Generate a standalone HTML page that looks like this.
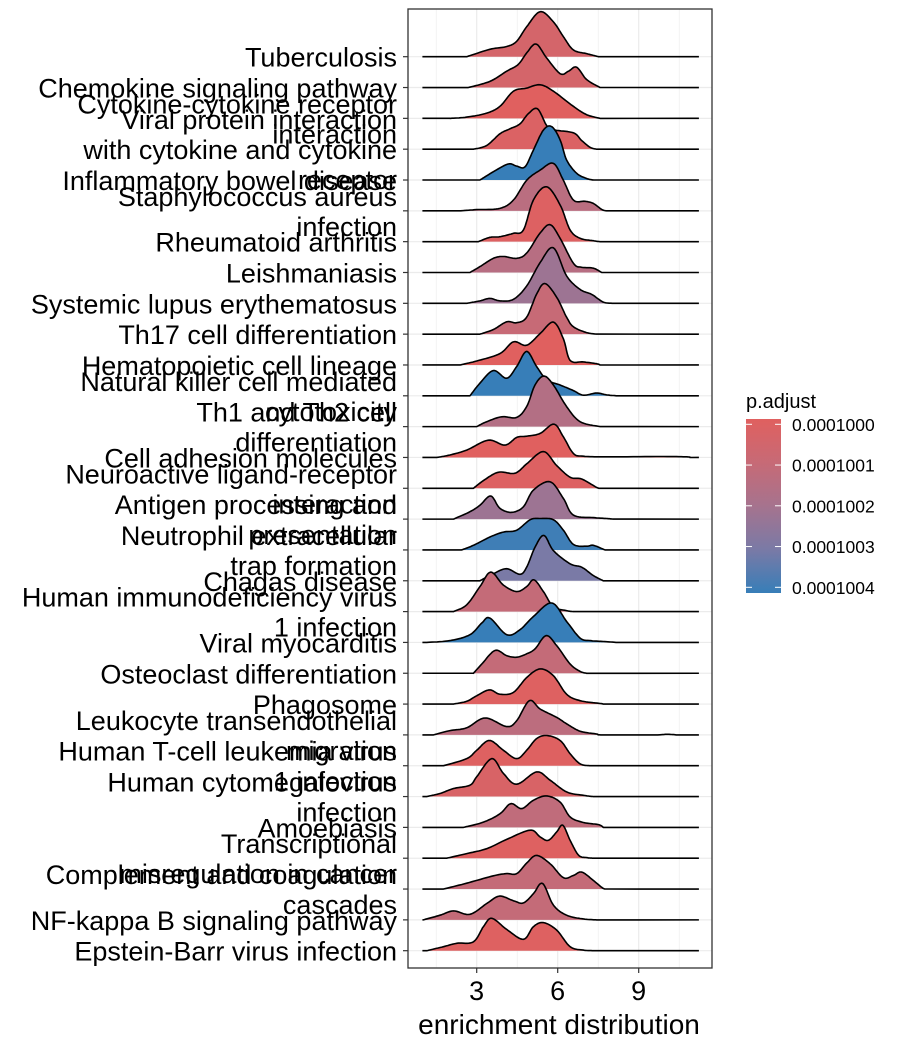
<!DOCTYPE html>
<html><head><meta charset="utf-8"><style>
html,body{margin:0;padding:0;background:#fff;}
svg{display:block;font-family:"Liberation Sans",Arial,sans-serif;}
</style></head><body>
<svg id="chart" width="898" height="1050" viewBox="0 0 898 1050" xmlns="http://www.w3.org/2000/svg">
<defs>
<linearGradient id="cbar" x1="0" y1="0" x2="0" y2="1">
<stop offset="0" stop-color="#E0605F"/><stop offset="0.25" stop-color="#C76A76"/><stop offset="0.5" stop-color="#A6738E"/><stop offset="0.75" stop-color="#7A7AA6"/><stop offset="1" stop-color="#377EB8"/>
</linearGradient>
</defs>
<g id="grid"></g>
<g id="ridges"></g>
<rect x="408" y="9" width="304" height="959" fill="none" stroke="#333" stroke-width="1.3"/>
<g id="yaxis"></g>
<g id="xaxis"></g>
<text x="559" y="1034" font-size="28" text-anchor="middle" fill="#000">enrichment distribution</text>
<g>
<text x="746" y="408" font-size="20" fill="#000">p.adjust</text>
<rect x="746" y="419" width="35" height="174" fill="url(#cbar)"/>
<g id="legendticks"></g>
</g>
</svg>
<script>
const categories = ["Tuberculosis","Chemokine signaling pathway","Cytokine-cytokine receptor|interaction","Viral protein interaction|with cytokine and cytokine|receptor","Inflammatory bowel disease","Staphylococcus aureus|infection","Rheumatoid arthritis","Leishmaniasis","Systemic lupus erythematosus","Th17 cell differentiation","Hematopoietic cell lineage","Natural killer cell mediated|cytotoxicity","Th1 and Th2 cell|differentiation","Cell adhesion molecules","Neuroactive ligand-receptor|interaction","Antigen processing and|presentation","Neutrophil extracellular|trap formation","Chagas disease","Human immunodeficiency virus|1 infection","Viral myocarditis","Osteoclast differentiation","Phagosome","Leukocyte transendothelial|migration","Human T-cell leukemia virus|1 infection","Human cytomegalovirus|infection","Amoebiasis","Transcriptional|misregulation in cancer","Complement and coagulation|cascades","NF-kappa B signaling pathway","Epstein-Barr virus infection"];
const pAdjustT = [.12,.12,0,.05,1,.35,.03,.37,.55,.25,0,1,.4,0,.03,.55,.97,.75,.27,1,.27,.02,.33,.02,.08,.3,.02,.27,.27,.02];
const pAdjust = pAdjustT.map(t => 0.0001 + t*4e-7);
const densities = [
[2.63,0,3.49,.24,4.11,.33,4.48,.5,4.85,.97,5.35,1.46,5.84,1.13,6.21,.65,6.58,.22,7.07,.1,7.51,0],
[2.69,0,3.49,.2,4.11,.53,4.54,.75,4.85,1.12,5.20,1.41,5.59,.96,6.09,.45,6.40,.53,6.70,.66,7.07,.26,7.57,0],
[2.01,0,2.63,.04,3.37,.17,3.86,.39,4.36,.88,4.85,.98,5.35,1.09,5.84,.88,6.58,.39,7.07,.12,7.57,0],
[2.88,0,3.37,.12,3.86,.5,4.23,.66,4.60,.82,4.91,1.15,5.25,1.31,5.59,.77,5.84,.63,6.58,.53,6.89,.28,7.20,.06,7.44,0],
[3.12,0,3.62,.27,4.17,.52,4.48,.45,4.79,.43,5.10,.97,5.47,1.62,5.78,1.73,6.09,1.3,6.33,.65,6.70,.22,7.07,.05,7.32,0],
[2.38,0,3.0,.04,3.86,.08,4.36,.35,4.85,.99,5.35,1.32,5.84,1.54,6.21,.99,6.58,.35,7.01,.31,7.32,.24,7.69,.02,8.06,0],
[3.06,0,3.49,.14,3.86,.16,4.36,.27,4.73,.38,5.10,1.35,5.59,1.78,6.09,1.19,6.46,.38,6.83,.11,7.32,.03,7.57,0],
[2.75,0,3.12,.19,3.62,.46,3.99,.52,4.48,.46,4.85,.63,5.35,1.28,5.72,1.55,6.09,1.11,6.58,.3,6.89,.17,7.32,.14,7.63,0],
[2.63,0,3.12,.08,3.49,.16,3.86,.08,4.36,.13,4.85,.56,5.35,1.32,5.84,1.8,6.33,.89,6.83,.45,7.26,.29,7.69,.04,8.06,0],
[3.12,0,3.62,.15,4.11,.4,4.48,.37,4.85,.55,5.22,1.3,5.53,1.64,5.96,1.2,6.33,.55,6.58,.24,7.07,.05,7.44,0],
[2.38,0,3.0,.13,3.86,.37,4.36,.75,4.85,.64,5.35,1.02,5.84,1.39,6.21,.85,6.46,.15,6.95,.1,7.44,.04,7.57,0],
[2.75,0,3.12,.41,3.62,.82,4.11,.57,4.48,.95,4.85,1.44,5.22,.95,5.59,.52,6.09,.35,6.58,.17,6.95,.02,7.44,.09,7.81,.03,8.19,0],
[3.0,0,3.37,.16,3.93,.32,4.48,.3,4.85,.65,5.16,1.35,5.49,1.64,5.84,1.35,6.33,.65,6.83,.16,7.57,0],
[1.52,0,2.01,.08,2.63,.24,3.43,.56,4.05,.4,4.48,.65,4.85,.69,5.35,.78,5.86,1.08,6.21,.67,6.58,.13,6.95,.04,7.81,.02,9.79,.03,10.78,.02,10.9,0],
[2.88,0,3.25,.25,3.80,.52,4.42,.49,4.85,.79,5.47,1.19,5.96,.74,6.46,.36,6.89,.3,7.44,.03,7.57,0],
[2.14,0,2.75,.24,3.12,.45,3.52,.75,3.86,.35,4.30,.22,4.73,.4,5.10,.94,5.72,1.21,6.21,.67,6.58,.13,7.32,.05,7.81,.02,8.06,0],
[2.44,0,2.88,.15,3.49,.42,3.99,.58,4.48,.64,4.98,.98,5.35,1.02,5.84,.98,6.21,.64,6.58,.18,7.07,.12,7.32,.15,7.75,0],
[3.12,0,3.62,.23,4.11,.39,4.60,.21,4.85,.44,5.16,1.09,5.49,1.47,5.84,.98,6.46,.55,6.89,.44,7.32,.17,7.69,0],
[2.14,0,2.63,.22,3.12,.81,3.52,1.28,3.99,.86,4.48,.65,4.85,.81,5.12,1.03,5.47,.65,5.84,.16,6.33,.03,6.58,0],
[1.15,0,2.01,.06,2.75,.25,3.19,.63,3.49,.79,4.11,.25,4.60,.41,5.10,.84,5.78,1.28,6.33,.68,6.83,.14,7.20,.06,7.69,.03,8.19,0],
[2.88,0,3.19,.3,3.68,.74,4.11,.57,4.48,.52,4.85,.63,5.16,.79,5.57,1.22,5.96,.9,6.46,.3,6.83,.06,7.07,0],
[2.14,0,2.63,.09,3.0,.27,3.47,.46,3.86,.32,4.36,.38,4.85,.86,5.35,1.14,5.84,.92,6.33,.32,6.83,.11,7.57,.02,7.69,0],
[1.40,0,2.01,.14,2.63,.23,3.31,.55,4.11,.27,4.48,.46,4.95,1.11,5.35,.84,5.96,.57,6.33,.36,6.83,.12,7.44,.03,7.69,0,9.6,0,10.04,.02,10.41,0],
[1.77,0,2.63,.23,3.0,.5,3.47,.82,3.99,.5,4.48,.23,4.85,.5,5.22,.88,5.60,.98,6.09,.82,6.46,.39,6.83,.06,7.20,0],
[1.15,0,1.64,.1,2.14,.26,2.75,.37,3.0,.64,3.56,1.23,3.99,.75,4.48,.4,5.22,.8,5.72,.53,6.33,.15,6.95,.04,7.32,0],
[2.51,0,3.25,.17,3.86,.44,4.26,.77,4.67,.61,5.10,.88,5.59,1.02,6.09,.82,6.46,.34,6.95,.16,7.51,.09,7.69,0],
[1.89,0,2.63,.15,3.37,.31,4.11,.61,4.98,.91,5.35,.69,5.65,.58,5.96,.85,6.19,1.07,6.46,.58,6.77,.1,7.07,.02,7.32,0],
[1.77,0,2.63,.19,3.62,.43,4.11,.5,4.48,.5,4.85,.84,5.22,1.09,5.72,.82,6.21,.37,6.58,.44,6.89,.55,7.32,.28,7.69,.02,7.88,0],
[1.02,0,1.64,.15,2.14,.29,2.75,.18,3.37,.53,3.84,.77,4.36,.62,4.73,.55,5.10,.85,5.44,1.18,5.84,.48,6.33,.15,6.95,.03,7.44,0],
[1.15,0,1.77,.13,2.26,.24,2.88,.29,3.25,.78,3.56,1.05,4.11,.69,4.73,.37,5.10,.78,5.47,.91,5.96,.67,6.46,.13,6.95,.02,7.32,0]
];
const xTicks = [3,6,9];
const xMinorTicks = [1.5,4.5,7.5,10.5];
const legendValues = [0.0001000,0.0001001,0.0001002,0.0001003,0.0001004];
const dataRange = [0.99,11.23];

const NS="http://www.w3.org/2000/svg";
const xs = v => 395.7 + 27*v;
const ys = i => 56.7 + i*(894/29);
const hs = h => h*30.83;
const pMin=0.0001, pMax=0.0001004;
const stops=[[224,96,95],[199,106,118],[166,115,142],[122,122,166],[55,126,184]];
function colorFor(p){
  let t=Math.max(0,Math.min(1,(p-pMin)/(pMax-pMin)))*4;
  let k=Math.min(3,Math.floor(t)), f=t-k;
  const c=stops[k].map((a,j)=>Math.round(a+(stops[k+1][j]-a)*f));
  return `rgb(${c[0]},${c[1]},${c[2]})`;
}
function mk(tag,attrs,parent){const e=document.createElementNS(NS,tag);for(const k in attrs)e.setAttribute(k,attrs[k]);parent.appendChild(e);return e;}

const grid=document.getElementById('grid');
xMinorTicks.forEach(v=>{
  const l=mk('line',{x1:xs(v),x2:xs(v),y1:9,y2:968,stroke:'#EBEBEB','stroke-width':0.6},grid);
  
  
});
xTicks.forEach(v=>{
  const l=mk('line',{x1:xs(v),x2:xs(v),y1:9,y2:968,stroke:'#EBEBEB','stroke-width':1.2},grid);
  
  
});
categories.forEach((c,i)=>{
  const l=mk('line',{x1:408,x2:712,y1:ys(i),y2:ys(i),stroke:'#EBEBEB','stroke-width':1.2},grid);
  
  
});

function curvePts(arr){
  const k=[];for(let j=0;j<arr.length;j+=2)k.push([xs(arr[j]),arr[j+1]]);
  const out=[];
  for(let s=0;s<k.length-1;s++){
    const p0=k[Math.max(0,s-1)],p1=k[s],p2=k[s+1],p3=k[Math.min(k.length-1,s+2)];
    for(let n=0;n<10;n++){
      const t=n/10,t2=t*t,t3=t2*t;
      const f=(a,b,c,d)=>0.5*((2*b)+(-a+c)*t+(2*a-5*b+4*c-d)*t2+(-a+3*b-3*c+d)*t3);
      out.push([f(p0[0],p1[0],p2[0],p3[0]),Math.max(0,f(p0[1],p1[1],p2[1],p3[1]))]);
    }
  }
  out.push(k[k.length-1]);
  return out;
}
const ridges=document.getElementById('ridges');
densities.forEach((arr,i)=>{
  const base=ys(i);
  const pts=curvePts(arr);
  const g=mk('g',{},ridges);
  
  
  let d='M'+pts[0][0].toFixed(1)+','+base;
  pts.forEach(p=>{d+=' L'+p[0].toFixed(1)+','+(base-hs(p[1])).toFixed(1);});
  d+=' L'+pts[pts.length-1][0].toFixed(1)+','+base+' Z';
  const fill=mk('path',{d:d,fill:colorFor(pAdjust[i]),stroke:'none'},g);
  
  
  let ld='M'+xs(dataRange[0]).toFixed(1)+','+base+' L'+pts[0][0].toFixed(1)+','+base;
  pts.forEach(p=>{ld+=' L'+p[0].toFixed(1)+','+(base-hs(p[1])).toFixed(1);});
  ld+=' L'+xs(dataRange[1]).toFixed(1)+','+base;
  const line=mk('path',{d:ld,fill:'none',stroke:'#000','stroke-width':1.6,'stroke-linejoin':'round'},g);
  
  
});

const yaxis=document.getElementById('yaxis');
categories.forEach((c,i)=>{
  const y=ys(i);
  const tk=mk('line',{x1:403,x2:408,y1:y,y2:y,stroke:'#333','stroke-width':1.2},yaxis);
  
  
  const lines=c.split('|');
  const t=mk('text',{x:397,'font-size':27,'text-anchor':'end',fill:'#000'},yaxis);
  
  
  lines.forEach((s,j)=>{
    const sp=mk('tspan',{x:397,y:(y+10-(lines.length-1)*15+j*30).toFixed(1)},t);
    sp.textContent=s;
  });
});
const xaxis=document.getElementById('xaxis');
xTicks.forEach(v=>{
  const tk=mk('line',{x1:xs(v),x2:xs(v),y1:968,y2:973,stroke:'#333','stroke-width':1.2},xaxis);
  
  
  const t=mk('text',{x:xs(v),y:1000,'font-size':27,'text-anchor':'middle',fill:'#000'},xaxis);
  
  
  t.textContent=v;
});
const lt=document.getElementById('legendticks');
legendValues.forEach(p=>{
  const y=424.3+(p-pMin)/(pMax-pMin)*163;
  mk('line',{x1:746,x2:752,y1:y,y2:y,stroke:'#fff','stroke-width':1},lt);
  mk('line',{x1:775,x2:781,y1:y,y2:y,stroke:'#fff','stroke-width':1},lt);
  const t=mk('text',{x:792,y:y+6.5,'font-size':17.5,fill:'#000'},lt);
  
  
  t.textContent=p.toFixed(7);
});
</script>
</body></html>
